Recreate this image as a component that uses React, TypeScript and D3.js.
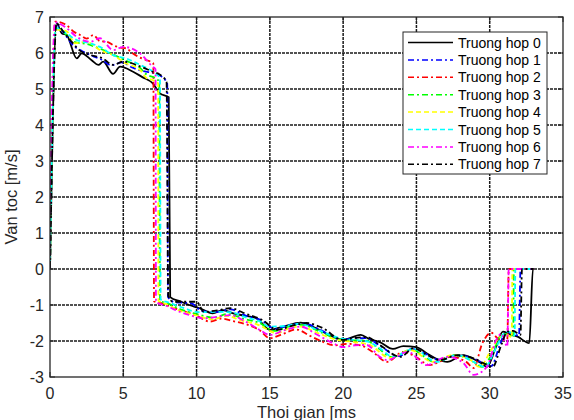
import React from "react";
import * as d3 from "d3";

type Pt = [number, number];

// time [ms], velocity [m/s]
const case0: Pt[] = [
  [0, 0], [0.45, 6.83], [0.8, 6.55], [1.14, 6.5], [1.82, 5.85], [2.16, 5.99], [2.84, 5.8],
  [3.3, 5.67], [3.63, 5.76], [4.3, 5.42], [4.78, 5.62], [5.67, 5.48], [6.3, 5.33],
  [7.0, 5.16], [7.5, 4.88], [8.1, 4.77], [8.2, -0.78], [8.9, -0.9], [9.5, -1.0],
  [10.2, -1.09], [11.1, -1.23], [11.8, -1.14], [12.5, -1.23], [13.3, -1.3], [14.1, -1.37],
  [15.0, -1.69], [15.9, -1.6], [17.1, -1.49], [17.9, -1.6], [19.1, -1.84], [20.0, -1.97],
  [21.2, -1.83], [21.8, -1.95], [22.5, -2.03], [23.4, -2.22], [24.1, -2.14], [25.0, -2.17],
  [25.7, -2.34], [26.4, -2.5], [27.1, -2.58], [28.2, -2.39], [28.9, -2.5], [29.4, -2.61],
  [29.8, -2.72], [30.4, -2.2], [30.9, -1.74], [31.3, -1.8], [31.9, -1.88], [32.7, -2.06],
  [32.95, 0], [33, 0],
];

const case1: Pt[] = [
  [0, 0], [0.4, 6.8], [0.9, 6.58], [1.6, 6.2], [2.2, 6.05], [2.9, 5.92], [3.5, 5.82],
  [4.2, 5.66], [4.9, 5.74], [5.6, 5.6], [6.3, 5.5], [7.0, 5.45], [7.6, 5.35], [8.0, 5.15],
  [8.05, -0.78], [8.5, -0.92], [9.6, -0.95], [10.4, -1.17], [11.3, -1.2], [12.3, -1.12],
  [13.4, -1.3], [14.4, -1.42], [15.4, -1.67], [16.4, -1.55], [17.4, -1.52], [18.4, -1.68],
  [19.9, -1.96], [20.8, -1.93], [21.6, -1.92], [22.4, -2.1], [23.8, -2.42], [24.7, -2.22],
  [25.6, -2.35], [26.5, -2.52], [27.7, -2.4], [28.8, -2.47], [29.5, -2.6], [30.1, -2.7],
  [30.7, -2.1], [31.1, -1.76], [31.5, -1.78], [32.0, -1.85], [32.1, 0], [33, 0],
];

const case2: Pt[] = [
  [0, 0], [0.35, 6.87], [1.1, 6.78], [1.6, 6.6], [2.05, 6.5], [2.5, 6.4], [2.96, 6.5],
  [3.4, 6.33], [3.9, 6.31], [4.4, 6.2], [4.8, 6.15], [5.2, 6.13], [5.6, 6.0], [6.1, 5.88],
  [6.6, 5.8], [7.05, 5.71], [7.1, -0.9], [7.6, -0.95], [8.4, -1.08], [9.2, -1.18],
  [10.0, -1.3], [10.9, -1.46], [11.7, -1.38], [12.5, -1.45], [13.5, -1.55], [14.3, -1.7],
  [15.0, -1.92], [15.9, -1.8], [16.8, -1.68], [17.7, -1.85], [18.6, -2.02], [19.4, -2.12],
  [20.3, -2.08], [21.2, -2.12], [22.0, -2.3], [23.0, -2.58], [24.1, -2.3], [25.0, -2.45],
  [25.9, -2.67], [26.7, -2.55], [27.3, -2.44], [28.4, -2.58], [28.9, -2.75], [29.5, -2.06],
  [30.1, -1.77], [30.7, -1.97], [31.2, -1.95], [31.3, 0], [33, 0],
];

const case3: Pt[] = [
  [0, 0], [0.35, 6.72], [1.0, 6.55], [1.7, 6.3], [2.5, 6.25], [3.4, 6.12], [4.3, 5.96],
  [5.2, 5.78], [6.1, 5.6], [6.6, 5.4], [7.2, 5.3], [7.45, 5.2], [7.5, -0.88], [8.0, -0.95],
  [8.9, -1.12], [10.0, -1.25], [11.2, -1.35], [12.1, -1.25], [13.2, -1.38], [14.3, -1.5],
  [15.3, -1.72], [16.3, -1.6], [17.2, -1.55], [18.3, -1.72], [19.7, -1.95], [20.6, -1.98],
  [21.5, -1.98], [22.4, -2.2], [23.3, -2.45], [24.7, -2.23], [25.4, -2.4], [26.2, -2.58],
  [27.6, -2.39], [28.8, -2.55], [29.5, -2.72], [30.1, -2.4], [30.8, -1.85], [31.2, -1.8],
  [31.6, -1.9], [31.65, 0], [33, 0],
];

const case4: Pt[] = [
  [0, 0], [0.4, 6.65], [1.14, 6.6], [1.7, 6.27], [2.5, 6.31], [3.41, 6.08], [4.3, 5.94],
  [5.2, 5.71], [6.14, 5.53], [6.6, 5.3], [7.0, 5.25], [7.38, 5.15], [7.4, -0.88],
  [7.9, -0.97], [8.8, -1.15], [9.9, -1.28], [11.1, -1.4], [12.0, -1.3], [13.0, -1.42],
  [14.2, -1.55], [15.5, -1.78], [16.3, -1.65], [17.1, -1.6], [18.1, -1.75], [19.6, -1.97],
  [20.6, -2.02], [21.8, -2.11], [23.2, -2.47], [24.6, -2.25], [26.1, -2.58], [27.5, -2.39],
  [28.7, -2.53], [29.3, -2.72], [30.1, -2.25], [30.7, -1.89], [31.2, -1.83], [31.5, -1.9],
  [31.55, 0], [33, 0],
];

const case5: Pt[] = [
  [0, 0], [0.4, 6.7], [1.1, 6.55], [1.82, 6.36], [2.73, 6.27], [3.41, 6.17], [4.3, 5.94],
  [5.2, 5.85], [6.14, 5.67], [7.16, 5.44], [7.5, 5.3], [7.55, -0.85], [8.1, -0.93],
  [9.1, -1.08], [10.2, -1.2], [11.4, -1.19], [12.3, -1.2], [13.4, -1.35], [14.3, -1.45],
  [15.0, -1.6], [16.1, -1.58], [17.0, -1.52], [18.2, -1.68], [19.8, -1.92], [20.8, -1.97],
  [21.7, -2.02], [22.5, -2.2], [23.4, -2.44], [24.8, -2.22], [26.4, -2.58], [27.8, -2.39],
  [28.9, -2.58], [29.7, -2.72], [30.3, -2.3], [30.9, -1.83], [31.3, -1.74], [31.7, -1.85],
  [31.75, 0], [33, 0],
];

const case6: Pt[] = [
  [0, 0], [0.1, 4.0], [0.35, 6.85], [1.1, 6.7], [1.82, 6.45], [2.73, 6.31], [3.41, 6.41],
  [4.3, 6.08], [5.0, 6.17], [6.14, 5.99], [7.0, 5.62], [7.2, 5.55], [7.23, -0.92],
  [7.9, -1.02], [8.87, -1.19], [9.7, -1.3], [10.5, -1.37], [11.4, -1.33], [12.3, -1.28],
  [13.3, -1.45], [14.3, -1.69], [15.0, -1.83], [16.0, -1.7], [17.1, -1.6], [18.2, -1.82],
  [19.3, -2.06], [20.0, -2.17], [20.8, -2.12], [21.6, -2.11], [22.5, -2.44], [23.0, -2.53],
  [24.4, -2.3], [25.7, -2.67], [27.1, -2.44], [28.2, -2.61], [28.9, -2.94], [29.8, -2.72],
  [30.5, -1.92], [30.8, -1.8], [31.2, -2.16], [31.3, 0], [33, 0],
];

const case7: Pt[] = [
  [0, 0], [0.45, 6.82], [0.9, 6.6], [1.5, 6.3], [2.0, 6.08], [2.8, 5.94], [3.6, 5.85],
  [4.3, 5.67], [5.0, 5.76], [6.2, 5.62], [7.0, 5.48], [7.5, 5.4], [7.95, 5.2], [8.07, -0.75],
  [8.4, -0.91], [10.0, -0.91], [10.5, -1.19], [11.4, -1.15], [12.3, -1.09], [13.4, -1.25],
  [14.5, -1.42], [15.5, -1.69], [16.5, -1.58], [17.5, -1.5], [18.5, -1.62], [20.0, -1.97],
  [20.7, -1.92], [21.6, -1.89], [22.5, -2.11], [23.9, -2.44], [24.8, -2.2], [25.7, -2.38],
  [26.6, -2.53], [27.8, -2.39], [28.9, -2.48], [29.6, -2.62], [30.2, -2.72], [30.8, -2.1],
  [31.2, -1.74], [31.6, -1.72], [32.1, -1.83], [32.2, 0], [33, 0],
];

const seriesLabels = [
  "Truong hop 0", "Truong hop 1", "Truong hop 2", "Truong hop 3",
  "Truong hop 4", "Truong hop 5", "Truong hop 6", "Truong hop 7",
];
const seriesData = [case0, case1, case2, case3, case4, case5, case6, case7];
const seriesColors = ["#000000", "#0000ff", "#ff0000", "#00ff00", "#ffff00", "#00ffff", "#ff00ff", "#000000"];
const seriesDash = [null, "6,3,2,3", "6,3,2,3", "6,3,2,3", "5,3", "5,3", "6,3,2,3", "6,3,2,3"];

const xTicks = [0, 5, 10, 15, 20, 25, 30, 35];
const yTicks = [-3, -2, -1, 0, 1, 2, 3, 4, 5, 6, 7];

const W = 574;
const H = 420;
const margin = { top: 17, right: 11, bottom: 43, left: 50 };
const FONT = "'Liberation Sans', Arial, sans-serif";
const INK = "#262626";

export default function App() {
  const innerW = W - margin.left - margin.right;
  const innerH = H - margin.top - margin.bottom;

  const x = d3.scaleLinear().domain([0, 35]).range([0, innerW]);
  const y = d3.scaleLinear().domain([-3, 7]).range([innerH, 0]);

  const line = d3
    .line<Pt>()
    .x((d) => x(d[0]))
    .y((d) => y(d[1]))
    .curve(d3.curveMonotoneX);

  // legend placement
  const lg = { x: 353, y: 15, w: 144, h: 142, row: 17.4 };

  return (
    <div style={{ position: "fixed", left: 0, top: 0 }}>
      <svg width={W} height={H} style={{ display: "block", background: "#fff" }} fontFamily={FONT}>
        <defs>
          <clipPath id="plot-clip">
            <rect x={0} y={0} width={innerW} height={innerH} />
          </clipPath>
        </defs>
        <g transform={`translate(${margin.left},${margin.top})`}>
          {/* grid */}
          {xTicks.slice(1, -1).map((t) => (
            <line key={`gx${t}`} x1={x(t)} x2={x(t)} y1={0} y2={innerH}
              stroke="#1a1a1a" strokeWidth={1.5} strokeDasharray="3,1" />
          ))}
          {yTicks.slice(1, -1).map((t) => (
            <line key={`gy${t}`} x1={0} x2={innerW} y1={y(t)} y2={y(t)}
              stroke="#1a1a1a" strokeWidth={1.5} strokeDasharray="3,1" />
          ))}

          {/* series */}
          <g clipPath="url(#plot-clip)">
            {seriesData.map((s, i) => (
              <path key={i} d={line(s) ?? ""} fill="none" stroke={seriesColors[i]}
                strokeWidth={1.8} strokeDasharray={seriesDash[i] ?? undefined} />
            ))}
          </g>

          {/* frame + ticks */}
          <rect x={0} y={0} width={innerW} height={innerH} fill="none" stroke={INK} strokeWidth={1.3} />
          {xTicks.map((t) => (
            <g key={`xt${t}`}>
              <line x1={x(t)} x2={x(t)} y1={innerH} y2={innerH - 5} stroke={INK} />
              <line x1={x(t)} x2={x(t)} y1={0} y2={5} stroke={INK} />
              <text x={x(t)} y={innerH + 22} textAnchor="middle" fontSize={16} fill={INK}>{t}</text>
            </g>
          ))}
          {yTicks.map((t) => (
            <g key={`yt${t}`}>
              <line x1={0} x2={5} y1={y(t)} y2={y(t)} stroke={INK} />
              <line x1={innerW} x2={innerW - 5} y1={y(t)} y2={y(t)} stroke={INK} />
              <text x={-6} y={y(t) + 6} textAnchor="end" fontSize={16} fill={INK}>{t}</text>
            </g>
          ))}

          {/* axis titles */}
          <text x={innerW / 2} y={innerH + 41} textAnchor="middle" fontSize={16.5} fill={INK}>
            Thoi gian [ms
          </text>
          <text transform={`translate(-33,${innerH / 2}) rotate(-90)`} textAnchor="middle"
            fontSize={16.5} fill={INK}>
            Van toc [m/s]
          </text>

          {/* legend */}
          <g transform={`translate(${lg.x},${lg.y})`}>
            <rect x={0} y={0} width={lg.w} height={lg.h} fill="#fff" stroke={INK} strokeWidth={1} />
            {seriesLabels.map((label, i) => {
              const ry = 10.5 + i * lg.row;
              return (
                <g key={label}>
                  <line x1={5} x2={50} y1={ry} y2={ry} stroke={seriesColors[i]} strokeWidth={1.5}
                    strokeDasharray={seriesDash[i] ?? undefined} />
                  <text x={55} y={ry + 5} fontSize={14} fill="#000">{label}</text>
                </g>
              );
            })}
          </g>
        </g>
      </svg>
    </div>
  );
}
